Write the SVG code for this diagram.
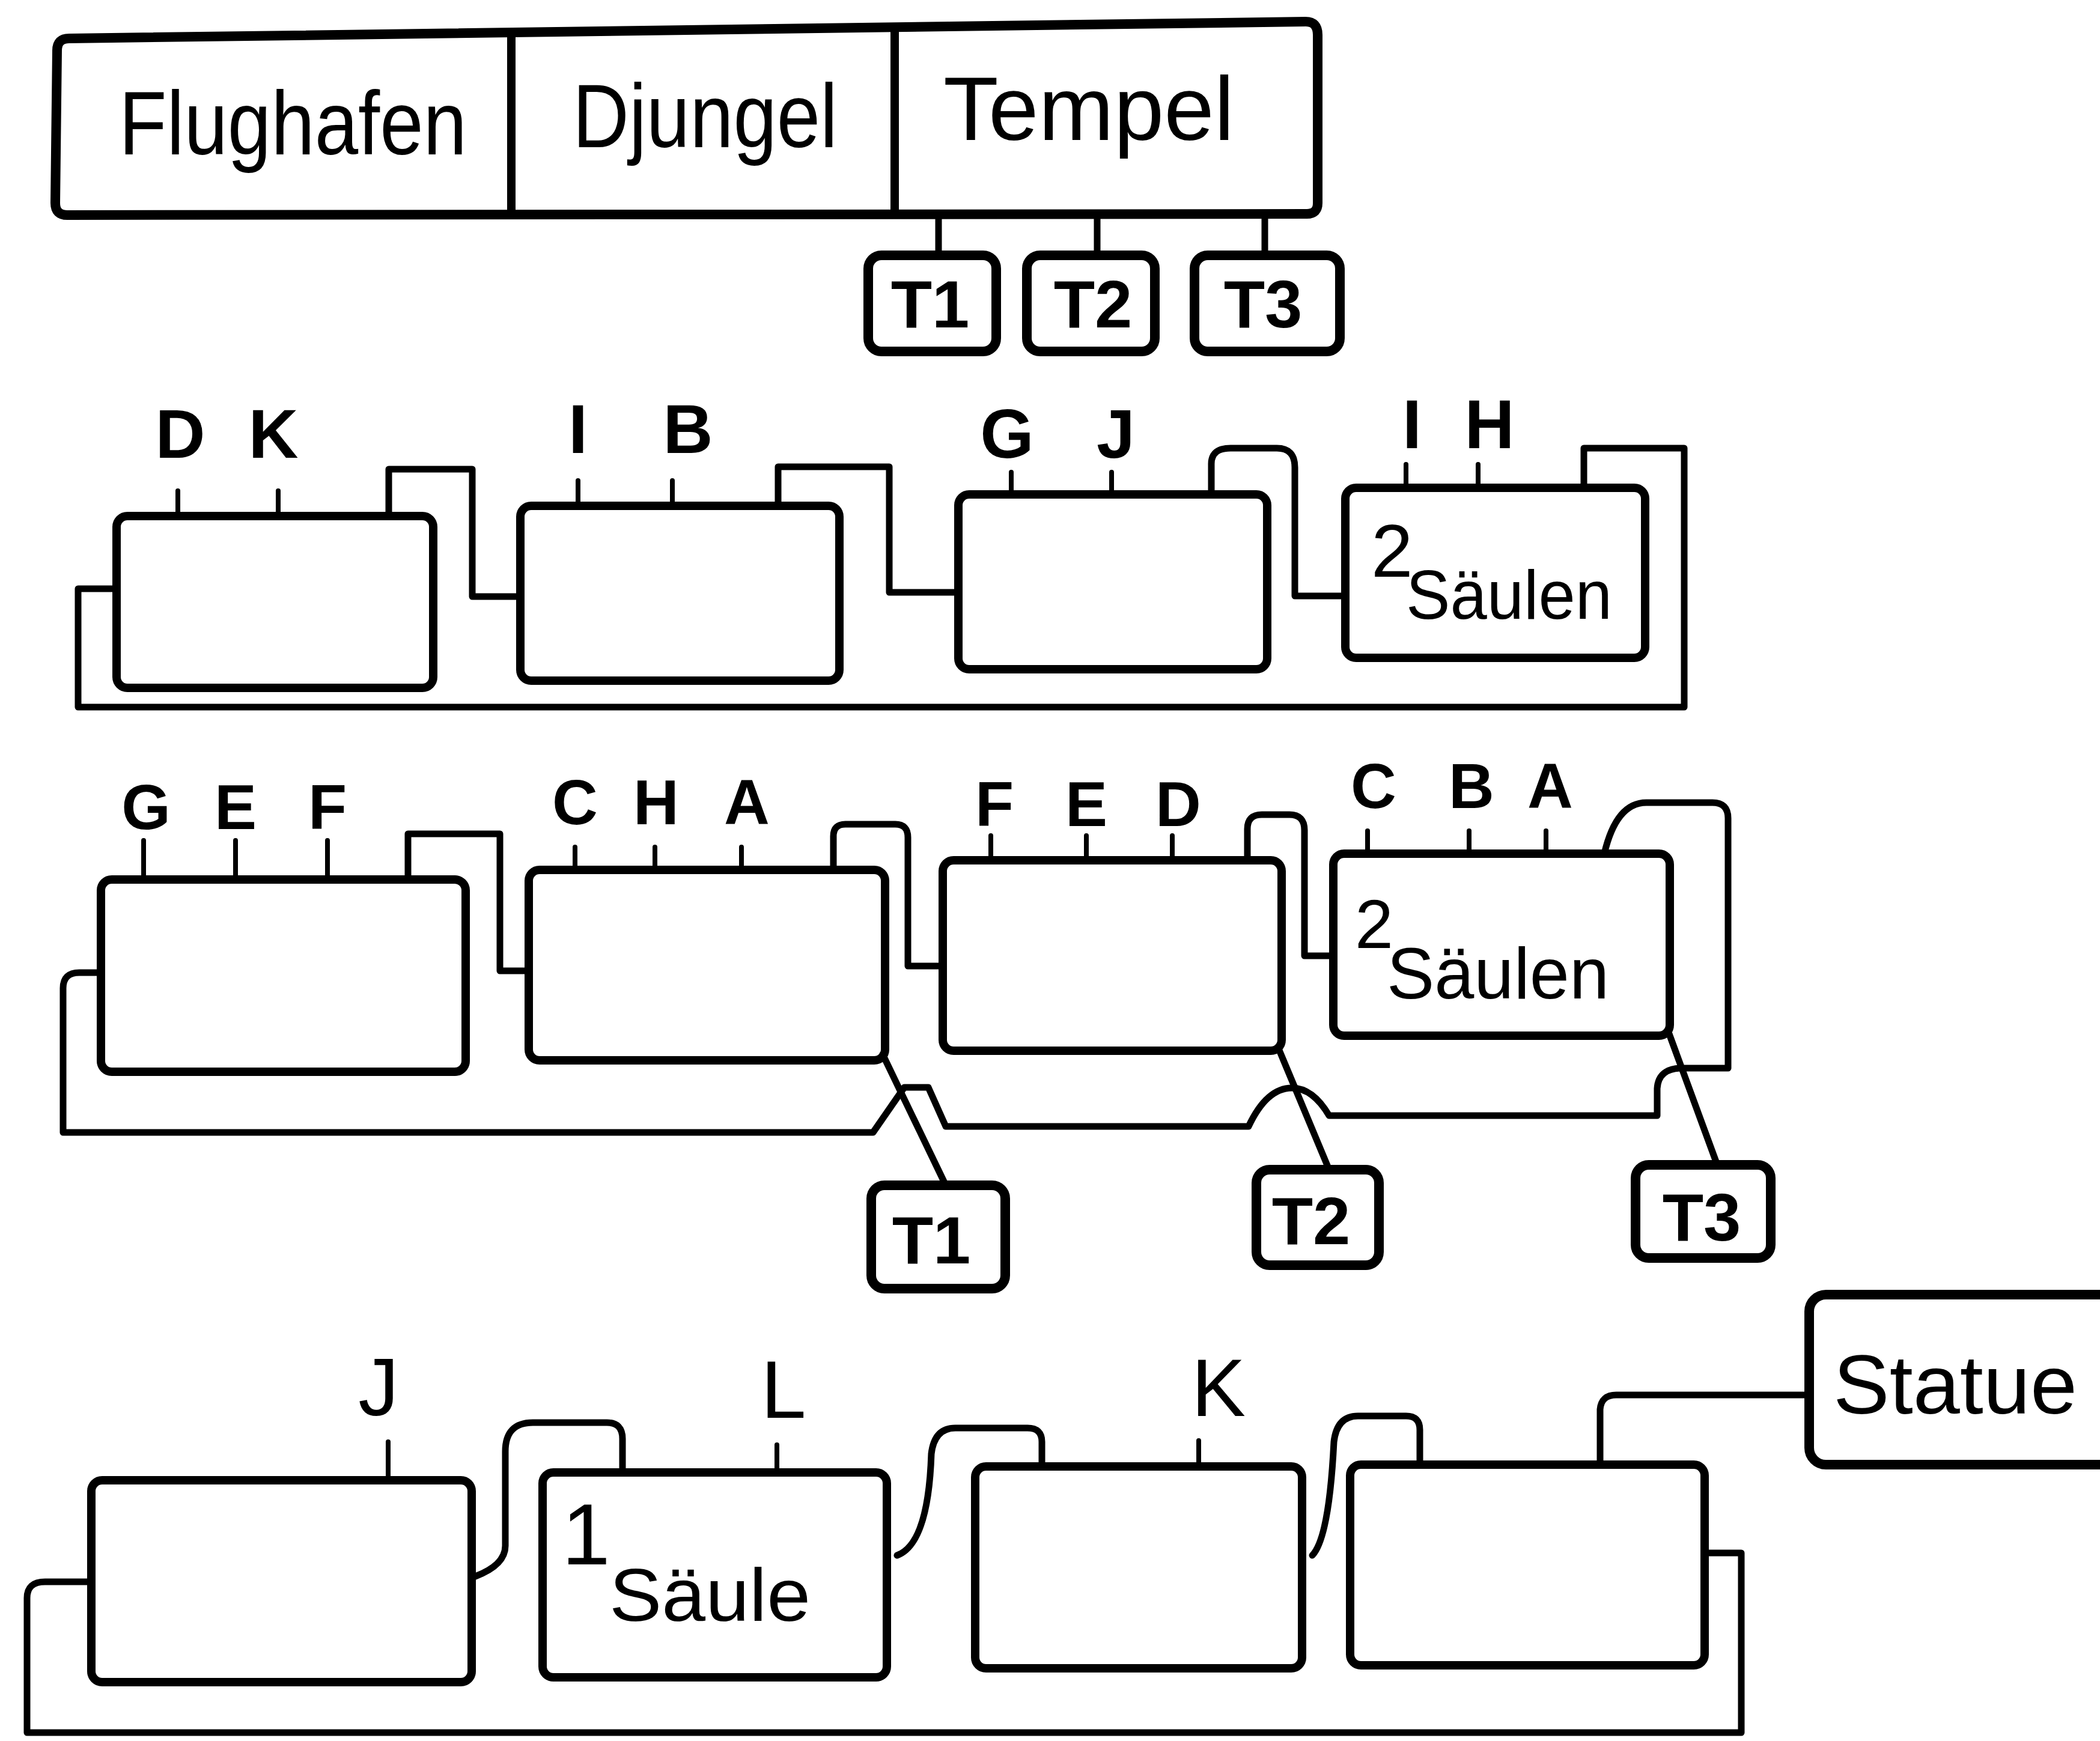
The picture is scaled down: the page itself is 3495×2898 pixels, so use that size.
<svg xmlns="http://www.w3.org/2000/svg" width="3495" height="2898" viewBox="0 0 3495 2898">
<style>
.box{fill:none;stroke:#000;stroke-width:14;stroke-linejoin:round}
.tb{fill:none;stroke:#000;stroke-width:16;stroke-linejoin:round}
.con{fill:none;stroke:#000;stroke-width:11;stroke-linejoin:round;stroke-linecap:round}
.tick{fill:none;stroke:#000;stroke-width:8;stroke-linecap:round}
.hw{font-family:"Liberation Sans","DejaVu Sans",sans-serif;fill:#000}
.lbl{font-family:"Liberation Sans","DejaVu Sans",sans-serif;font-weight:bold;fill:#000;text-anchor:middle}
.tl{font-family:"Liberation Sans","DejaVu Sans",sans-serif;font-weight:bold;fill:#000;text-anchor:middle;font-size:112px}
</style>
<rect width="3495" height="2898" fill="#fff"/>

<g id="top-bar">
<path class="tb" d="M115,64 L2173,36 Q2193,36 2193,58 L2193,338 Q2193,356 2175,356 L112,358 Q92,358 92,338 L95,84 Q95,64 115,64 Z"/>
<line class="box" x1="851" y1="54" x2="851" y2="357"/>
<line class="box" x1="1489" y1="45" x2="1489" y2="357"/>
<text class="hw" x="198" y="257" font-size="150" textLength="579" lengthAdjust="spacingAndGlyphs">Flughafen</text>
<text class="hw" x="953" y="245" font-size="150" textLength="441" lengthAdjust="spacingAndGlyphs">Djungel</text>
<text class="hw" x="1570" y="233" font-size="150" textLength="484" lengthAdjust="spacingAndGlyphs">Tempel</text>
</g>

<g id="top-T1"><rect class="tb" x="1445" y="425" width="213" height="160" rx="22"/><text class="tl" x="1548" y="545">T1</text></g>
<g id="top-T2"><rect class="tb" x="1709" y="425" width="213" height="160" rx="22"/><text class="tl" x="1819" y="545">T2</text></g>
<g id="top-T3"><rect class="tb" x="1988" y="425" width="242" height="160" rx="22"/><text class="tl" x="2102" y="545">T3</text></g>

<!-- Row 1 -->
<g id="r1b1"><rect class="box" x="194" y="859" width="527" height="286" rx="18"/>
<text class="lbl" x="300" y="762" font-size="115">D</text><text class="lbl" x="455" y="762" font-size="115">K</text></g>
<g id="r1b2"><rect class="box" x="866" y="842" width="531" height="291" rx="18"/>
<text class="lbl" x="962" y="754" font-size="115">I</text><text class="lbl" x="1145" y="754" font-size="115">B</text></g>
<g id="r1b3"><rect class="box" x="1595" y="823" width="514" height="291" rx="18"/>
<text class="lbl" x="1676" y="762" font-size="115">G</text><text class="lbl" x="1857" y="762" font-size="115">J</text></g>
<g id="r1b4"><rect class="box" x="2239" y="812" width="499" height="283" rx="18"/>
<text class="lbl" x="2350" y="746" font-size="115">I</text><text class="lbl" x="2479" y="746" font-size="115">H</text>
<text class="hw" x="2282" y="960" font-size="125">2</text>
<text class="hw" x="2340" y="1030" font-size="115" textLength="343" lengthAdjust="spacingAndGlyphs">Säulen</text></g>

<!-- Row 2 -->
<g id="r2b1"><rect class="box" x="168" y="1464" width="607" height="320" rx="18"/>
<text class="lbl" x="243" y="1380" font-size="105">G</text><text class="lbl" x="392" y="1380" font-size="105">E</text><text class="lbl" x="545" y="1380" font-size="105">F</text></g>
<g id="r2b2"><rect class="box" x="880" y="1448" width="593" height="317" rx="18"/>
<text class="lbl" x="957" y="1372" font-size="105">C</text><text class="lbl" x="1092" y="1372" font-size="105">H</text><text class="lbl" x="1243" y="1372" font-size="105">A</text></g>
<g id="r2b3"><rect class="box" x="1569" y="1432" width="564" height="317" rx="18"/>
<text class="lbl" x="1655" y="1375" font-size="105">F</text><text class="lbl" x="1808" y="1375" font-size="105">E</text><text class="lbl" x="1961" y="1375" font-size="105">D</text></g>
<g id="r2b4"><rect class="box" x="2219" y="1421" width="560" height="303" rx="18"/>
<text class="lbl" x="2286" y="1345" font-size="105">C</text><text class="lbl" x="2449" y="1345" font-size="105">B</text><text class="lbl" x="2580" y="1345" font-size="105">A</text>
<text class="hw" x="2255" y="1578" font-size="115">2</text>
<text class="hw" x="2308" y="1662" font-size="120" textLength="370" lengthAdjust="spacingAndGlyphs">Säulen</text></g>

<g id="r2T1"><rect class="tb" x="1450" y="1973" width="223" height="172" rx="22"/><text class="tl" x="1550" y="2103">T1</text></g>
<g id="r2T2"><rect class="tb" x="2091" y="1947" width="204" height="159" rx="22"/><text class="tl" x="2182" y="2071">T2</text></g>
<g id="r2T3"><rect class="tb" x="2722" y="1939" width="225" height="155" rx="22"/><text class="tl" x="2832" y="2065">T3</text></g>

<!-- Row 3 -->
<g id="r3b1"><rect class="box" x="152" y="2464" width="633" height="336" rx="18"/>
<text class="hw" x="630" y="2356" font-size="135" text-anchor="middle">J</text></g>
<g id="r3b2"><rect class="box" x="903" y="2451" width="573" height="341" rx="18"/>
<text class="hw" x="1304" y="2360" font-size="135" text-anchor="middle">L</text>
<text class="hw" x="935" y="2604" font-size="145">1</text>
<text class="hw" x="1014" y="2698" font-size="125" textLength="335" lengthAdjust="spacingAndGlyphs">Säule</text></g>
<g id="r3b3"><rect class="box" x="1623" y="2441" width="544" height="336" rx="18"/>
<text class="hw" x="2028" y="2357" font-size="135" text-anchor="middle">K</text></g>
<g id="r3b4"><rect class="box" x="2247" y="2438" width="590" height="334" rx="18"/></g>
<g id="statue"><rect class="tb" x="3011" y="2155" width="540" height="283" rx="28"/>
<text class="hw" x="3051" y="2353" font-size="140" textLength="406" lengthAdjust="spacingAndGlyphs">Statue</text></g>

<g id="connectors">
<line class="con" x1="1562" y1="357" x2="1562" y2="425"/>
<line class="con" x1="1826" y1="357" x2="1826" y2="425"/>
<line class="con" x1="2105" y1="357" x2="2105" y2="425"/>
<line class="tick" x1="296" y1="817" x2="296" y2="859"/>
<line class="tick" x1="463" y1="817" x2="463" y2="859"/>
<line class="tick" x1="962" y1="800" x2="962" y2="842"/>
<line class="tick" x1="1119" y1="800" x2="1119" y2="842"/>
<line class="tick" x1="1683" y1="786" x2="1683" y2="823"/>
<line class="tick" x1="1850" y1="786" x2="1850" y2="823"/>
<line class="tick" x1="2340" y1="773" x2="2340" y2="812"/>
<line class="tick" x1="2460" y1="773" x2="2460" y2="812"/>
<path class="con" d="M647,859 V781 H786 V993 H866"/>
<path class="con" d="M1295,842 V777 H1480 V986 H1595"/>
<path class="con" d="M2016,823 V772 Q2016,746 2048,746 H2125 Q2155,746 2155,778 V992 H2239"/>
<path class="con" d="M2636,812 V746 H2803 V1177 H130 V980 H194"/>
<line class="tick" x1="239" y1="1399" x2="239" y2="1464"/>
<line class="tick" x1="392" y1="1399" x2="392" y2="1464"/>
<line class="tick" x1="545" y1="1399" x2="545" y2="1464"/>
<line class="tick" x1="957" y1="1410" x2="957" y2="1448"/>
<line class="tick" x1="1090" y1="1410" x2="1090" y2="1448"/>
<line class="tick" x1="1234" y1="1410" x2="1234" y2="1448"/>
<line class="tick" x1="1649" y1="1391" x2="1649" y2="1432"/>
<line class="tick" x1="1808" y1="1391" x2="1808" y2="1432"/>
<line class="tick" x1="1951" y1="1391" x2="1951" y2="1432"/>
<line class="tick" x1="2276" y1="1383" x2="2276" y2="1421"/>
<line class="tick" x1="2445" y1="1383" x2="2445" y2="1421"/>
<line class="tick" x1="2573" y1="1383" x2="2573" y2="1421"/>
<path class="con" d="M679,1464 V1388 H832 V1616 H880"/>
<path class="con" d="M1387,1448 V1392 Q1387,1372 1407,1372 H1490 Q1511,1372 1511,1394 V1608 H1569"/>
<path class="con" d="M2076,1432 V1380 Q2076,1356 2100,1356 H2146 Q2171,1356 2171,1382 V1591 H2219"/>
<path class="con" d="M2670,1421 Q2690,1336 2740,1336 H2850 Q2876,1336 2876,1362 V1778 H2800 Q2760,1778 2758,1812 V1857 H2212 Q2185,1811 2150,1811 Q2108,1811 2078,1875 H1574 L1545,1810 H1505 L1453,1885 H105 V1645 Q105,1619 132,1619 H168"/>
<line class="con" x1="1469" y1="1755" x2="1574" y2="1973"/>
<line class="con" x1="2129" y1="1748" x2="2212" y2="1947"/>
<line class="con" x1="2778" y1="1721" x2="2858" y2="1939"/>
<line class="tick" x1="646" y1="2400" x2="646" y2="2464"/>
<line class="tick" x1="1293" y1="2405" x2="1293" y2="2451"/>
<line class="tick" x1="1995" y1="2398" x2="1995" y2="2441"/>
<path class="con" d="M791,2624 Q841,2605 841,2573 V2416 Q841,2368 887,2368 H1010 Q1036,2368 1036,2395 V2451"/>
<path class="con" d="M1493,2589 Q1545,2570 1550,2420 Q1555,2377 1590,2377 H1710 Q1734,2377 1734,2400 V2441"/>
<path class="con" d="M2184,2589 Q2212,2560 2220,2400 Q2225,2357 2260,2357 H2340 Q2363,2357 2363,2380 V2436"/>
<path class="con" d="M2663,2438 V2346 Q2665,2322 2690,2322 H3011"/>
<path class="con" d="M2837,2585 H2898 V2884 H45 V2660 Q45,2633 75,2633 H152"/>
</g>
</svg>
